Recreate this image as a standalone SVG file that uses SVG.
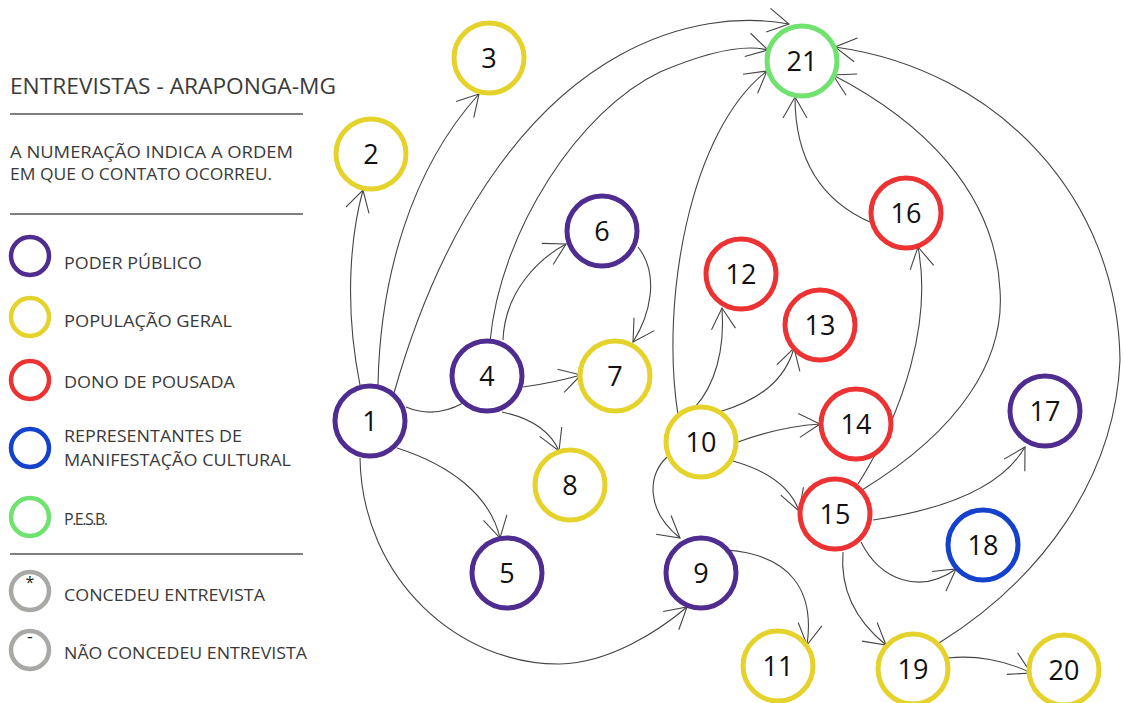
<svg xmlns="http://www.w3.org/2000/svg" width="1123" height="703" viewBox="0 0 1123 703">
<style>
.lg{font-family:"Open Sans","Noto Sans",sans-serif;fill:#3a3a3a;font-size:17px}
.pa{font-family:"Open Sans","Noto Sans",sans-serif;fill:#3a3a3a;font-size:16px}
.ttl{font-family:"Open Sans","Noto Sans",sans-serif;fill:#3a3a3a;font-size:22px}
.num{font-family:"Open Sans","Noto Sans",sans-serif;fill:#111;font-size:27px;text-anchor:middle}
.rule{stroke:#555;stroke-width:1.3}
.node{fill:#fff;stroke-width:5}
.leg{fill:#fff;stroke-width:4.5}
.pp{stroke:#4f2c8f}
.pg{stroke:#e5d22b}
.dp{stroke:#ec3232}
.rc{stroke:#1542cc}
.pe{stroke:#6fe26f}
.gr{stroke:#a8a8a4}
.e{fill:none;stroke:#444;stroke-width:1.1;marker-end:url(#ah)}
.en{fill:none;stroke:#444;stroke-width:1.1}
</style>
<defs>
<marker id="ah" markerUnits="userSpaceOnUse" markerWidth="30" markerHeight="30" refX="0" refY="0" orient="auto" overflow="visible">
<path d="M-21,-12 L0,0 L-21,12" fill="none" stroke="#444" stroke-width="1.1"/>
</marker>
</defs>
<rect width="1123" height="703" fill="#fff"/>

<g id="legend">
<text class="ttl" x="10" y="94" textLength="326" lengthAdjust="spacingAndGlyphs">ENTREVISTAS - ARAPONGA-MG</text>
<line class="rule" x1="10" y1="114" x2="303" y2="114"/>
<text class="pa" x="10" y="158" textLength="283" lengthAdjust="spacingAndGlyphs">A NUMERAÇÃO INDICA A ORDEM</text>
<text class="pa" x="10" y="180" textLength="262" lengthAdjust="spacingAndGlyphs">EM QUE O CONTATO OCORREU.</text>
<line class="rule" x1="10" y1="214" x2="303" y2="214"/>
<circle class="leg pp" cx="30" cy="256" r="19"/>
<text class="lg" x="64" y="269" textLength="138" lengthAdjust="spacingAndGlyphs">PODER PÚBLICO</text>
<circle class="leg pg" cx="30" cy="317" r="19"/>
<text class="lg" x="64" y="327" textLength="168" lengthAdjust="spacingAndGlyphs">POPULAÇÃO GERAL</text>
<circle class="leg dp" cx="30" cy="380" r="19"/>
<text class="lg" x="64" y="388" textLength="171" lengthAdjust="spacingAndGlyphs">DONO DE POUSADA</text>
<circle class="leg rc" cx="30" cy="448" r="19"/>
<text class="lg" x="64" y="442" textLength="178" lengthAdjust="spacingAndGlyphs">REPRESENTANTES DE</text>
<text class="lg" x="64" y="466" textLength="227" lengthAdjust="spacingAndGlyphs">MANIFESTAÇÃO CULTURAL</text>
<circle class="leg pe" cx="30" cy="517" r="19"/>
<text class="lg" x="64" y="525" textLength="44" lengthAdjust="spacing" style="font-size:16px">P.E.S.B.</text>
<line class="rule" x1="10" y1="554" x2="303" y2="554"/>
<circle class="leg gr" cx="30" cy="591" r="19"/>
<text class="lg" x="30" y="588" text-anchor="middle" style="fill:#222;font-size:16px">*</text>
<text class="lg" x="64" y="601" textLength="201" lengthAdjust="spacingAndGlyphs">CONCEDEU ENTREVISTA</text>
<circle class="leg gr" cx="30" cy="650" r="19"/>
<text class="lg" x="30" y="643" text-anchor="middle" style="fill:#222;font-size:18px">-</text>
<text class="lg" x="64" y="659" textLength="243" lengthAdjust="spacingAndGlyphs">NÃO CONCEDEU ENTREVISTA</text>
</g>

<g id="connectors">
<path class="e" d="M360,385 C343,300 352,230 363,190"/>
<path class="e" d="M378,385 C380,280 410,170 479,94"/>
<path class="e" d="M394,393 C440,230 520,110 620,55 C680,22 740,15 789,24"/>
<path class="en" d="M406,407 C425,415 445,413 463,403"/>
<path class="e" d="M397,448 C450,465 490,495 500,538"/>
<path class="e" d="M360,458 C362,580 460,665 560,664 C610,663 660,630 687,607"/>
<path class="e" d="M490,342 C500,230 580,110 660,72 C700,55 740,43 768,50"/>
<path class="e" d="M503,340 C505,290 540,258 566,244"/>
<path class="e" d="M523,387 C545,384 560,381 581,375"/>
<path class="e" d="M502,412 C530,418 550,430 559,451"/>
<path class="e" d="M638,247 C660,275 650,315 633,342"/>
<path class="e" d="M678,415 C660,300 690,130 767,71"/>
<path class="e" d="M667,457 C648,475 645,510 680,538"/>
<path class="e" d="M695,407 C715,385 725,350 722,308"/>
<path class="e" d="M719,412 C760,400 785,380 794,348"/>
<path class="e" d="M738,442 C765,432 790,426 820,424"/>
<path class="e" d="M733,461 C765,470 790,485 799,511"/>
<path class="e" d="M727,550 C790,555 815,590 807,645"/>
<path class="e" d="M872,223 C830,205 795,170 795,97"/>
<path class="e" d="M858,484 C905,410 932,320 918,247"/>
<path class="e" d="M862,490 C960,430 1005,360 1000,290 C995,190 920,120 833,75"/>
<path class="e" d="M873,520 C940,510 1000,490 1025,447"/>
<path class="e" d="M861,542 C880,580 920,595 956,569"/>
<path class="e" d="M843,552 C840,590 855,620 886,645"/>
<path class="e" d="M948,658 C975,655 1005,660 1031,673"/>
<path class="e" d="M939,643 C1040,580 1115,480 1120,360 C1118,200 1000,70 835,47"/>
</g>

<g id="n1"><circle class="node pp" cx="370" cy="421" r="35"/><text class="num" x="370" y="431">1</text></g>
<g id="n2"><circle class="node pg" cx="371" cy="154" r="35"/><text class="num" x="371" y="164">2</text></g>
<g id="n3"><circle class="node pg" cx="489" cy="58" r="35"/><text class="num" x="489" y="68">3</text></g>
<g id="n4"><circle class="node pp" cx="487" cy="376" r="35"/><text class="num" x="487" y="386">4</text></g>
<g id="n5"><circle class="node pp" cx="507" cy="573" r="35"/><text class="num" x="507" y="583">5</text></g>
<g id="n6"><circle class="node pp" cx="602" cy="231" r="35"/><text class="num" x="602" y="241">6</text></g>
<g id="n7"><circle class="node pg" cx="615" cy="376" r="35"/><text class="num" x="615" y="386">7</text></g>
<g id="n8"><circle class="node pg" cx="570" cy="485" r="35"/><text class="num" x="570" y="495">8</text></g>
<g id="n9"><circle class="node pp" cx="701" cy="573" r="35"/><text class="num" x="701" y="583">9</text></g>
<g id="n10"><circle class="node pg" cx="701" cy="442" r="35"/><text class="num" x="701" y="452">10</text></g>
<g id="n11"><circle class="node pg" cx="778" cy="666" r="35"/><text class="num" x="778" y="676">11</text></g>
<g id="n12"><circle class="node dp" cx="741" cy="274" r="35"/><text class="num" x="741" y="284">12</text></g>
<g id="n13"><circle class="node dp" cx="820" cy="325" r="35"/><text class="num" x="820" y="335">13</text></g>
<g id="n14"><circle class="node dp" cx="856" cy="424" r="35"/><text class="num" x="856" y="434">14</text></g>
<g id="n15"><circle class="node dp" cx="835" cy="514" r="35"/><text class="num" x="835" y="524">15</text></g>
<g id="n16"><circle class="node dp" cx="906" cy="213" r="35"/><text class="num" x="906" y="223">16</text></g>
<g id="n17"><circle class="node pp" cx="1045" cy="411" r="35"/><text class="num" x="1045" y="421">17</text></g>
<g id="n18"><circle class="node rc" cx="983" cy="545" r="35"/><text class="num" x="983" y="555">18</text></g>
<g id="n19"><circle class="node pg" cx="913" cy="669" r="35"/><text class="num" x="913" y="679">19</text></g>
<g id="n20"><circle class="node pg" cx="1064" cy="670" r="35"/><text class="num" x="1064" y="680">20</text></g>
<g id="n21"><circle class="node pe" cx="802" cy="61" r="35"/><text class="num" x="802" y="71">21</text></g>
</svg>
